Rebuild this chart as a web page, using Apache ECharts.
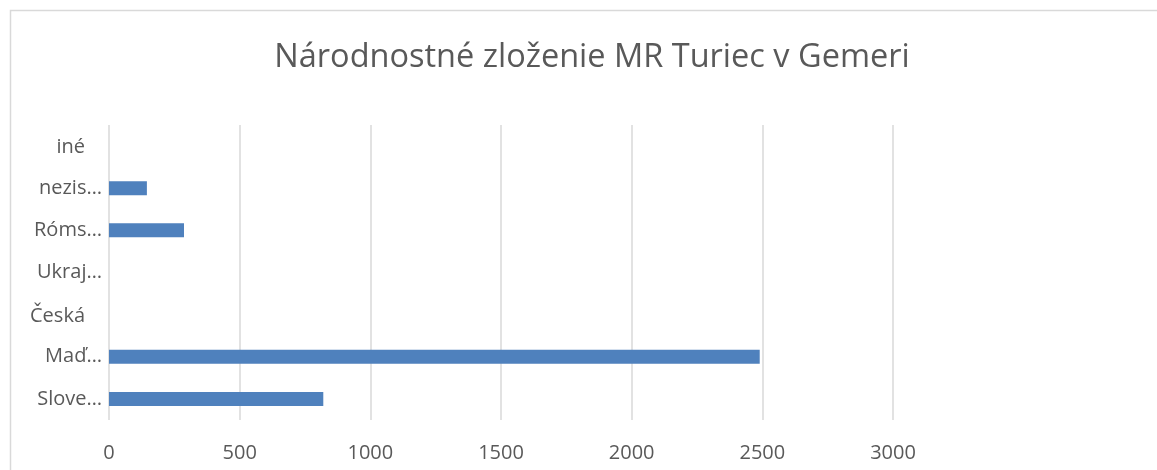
<!DOCTYPE html>
<html><head><meta charset="utf-8">
<script src="https://cdn.jsdelivr.net/npm/echarts@6/dist/echarts.min.js"></script>
<style>html,body{margin:0;padding:0;background:#fff}#c{width:1157px;height:470px}</style>
</head><body><div id="c"></div>
<script>
const titleText = 'Národnostné zloženie MR Turiec v Gemeri';
const categories = ['Slovenská', 'Maďarská', 'Česká', 'Ukrajinská', 'Rómska', 'nezistená', 'iné'];
const shownLabels = ['Slove…', 'Maď…', 'Česká', 'Ukraj…', 'Róms…', 'nezis…', 'iné'];
const values = [820, 2490, 0, 0, 287, 145, 0];
const xMin = 0, xMax = 3000, xStep = 500;

const chart = echarts.init(document.getElementById('c'), null, {renderer: 'canvas'});
const font = '"Open Sans", Lato, sans-serif';
chart.setOption({
  animation: false,
  backgroundColor: '#fff',
  graphic: [{
    type: 'rect', silent: true, z: -1,
    shape: {x: 10.5, y: 10.5, width: 1300, height: 600},
    style: {fill: '#fff', stroke: '#d9d9d9', lineWidth: 1.5}
  }],
  title: {
    text: titleText, left: 587, top: 36, textAlign: 'center',
    textStyle: {fontFamily: font, fontSize: 32.5, fontWeight: 'normal', color: '#595959'}
  },
  grid: {left: 109, right: 264, top: 125, bottom: 50, containLabel: false},
  xAxis: {
    type: 'value', min: xMin, max: xMax, interval: xStep,
    axisLine: {show: false}, axisTick: {show: false},
    splitLine: {lineStyle: {color: '#d9d9d9', width: 1.5}},
    axisLabel: {fontFamily: font, fontSize: 20, color: '#595959', margin: 23,
      formatter: v => String(v)}
  },
  yAxis: {
    type: 'category', data: categories,
    axisLine: {show: false}, axisTick: {show: false},
    axisLabel: {
      fontFamily: font, fontSize: 20, color: '#595959', margin: 7,
      formatter: (v, i) => shownLabels[i].endsWith('…') ? shownLabels[i] : '{p|' + shownLabels[i] + '}',
      rich: {p: {fontFamily: font, fontSize: 20, color: '#595959', padding: [3, 17, 0, 0]}}
    }
  },
  series: [{
    type: 'bar', data: values, barWidth: 14,
    itemStyle: {color: '#4f81bd'}
  }]
});
</script></body></html>
